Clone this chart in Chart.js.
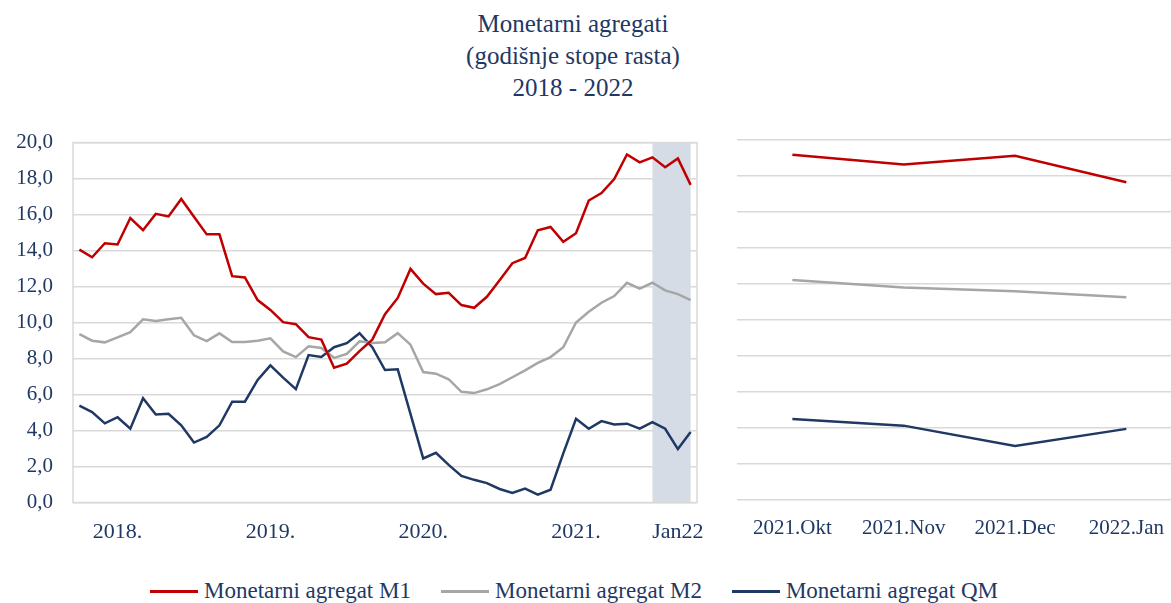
<!DOCTYPE html>
<html>
<head>
<meta charset="utf-8">
<script src="https://cdn.jsdelivr.net/npm/chart.js@4"></script>
<style>
    body { margin: 0; width: 1171px; height: 603px; overflow: hidden; background: #fff; position: relative; font-family: 'Liberation Serif', serif; color: #1F3864; }
    #title { position: absolute; top: 8px; left: 0; width: 1146px; text-align: center; font-size: 25px; line-height: 32px; }
    #left { position: absolute; left: 0; top: 110px; width: 706px; height: 450px; }
    #right { position: absolute; left: 700px; top: 110px; width: 490px; height: 450px; }
    #legend { position: absolute; left: 0; top: 578px; width: 1148px; display: flex; justify-content: center; font-size: 23px; line-height: 26px; white-space: nowrap; }
    #legend .item { display: flex; align-items: center; margin: 0 15px; }
    #legend .line { display: inline-block; width: 48px; height: 3px; margin-right: 6px; }
</style>
</head>
<body>
<div id="title">Monetarni agregati<br>(godišnje stope rasta)<br>2018 - 2022</div>
<div id="left"><canvas id="chart-left"></canvas></div>
<div id="right"><canvas id="chart-right"></canvas></div>
<div id="legend"></div>

<script>
// mjeseci 2018-01 .. 2022-01
const months = [
    '2018-01', '2018-02', '2018-03', '2018-04', '2018-05', '2018-06', '2018-07', '2018-08', '2018-09', '2018-10', '2018-11', '2018-12',
    '2019-01', '2019-02', '2019-03', '2019-04', '2019-05', '2019-06', '2019-07', '2019-08', '2019-09', '2019-10', '2019-11', '2019-12',
    '2020-01', '2020-02', '2020-03', '2020-04', '2020-05', '2020-06', '2020-07', '2020-08', '2020-09', '2020-10', '2020-11', '2020-12',
    '2021-01', '2021-02', '2021-03', '2021-04', '2021-05', '2021-06', '2021-07', '2021-08', '2021-09', '2021-10', '2021-11', '2021-12',
    '2022-01'
];

const m1 = [
    14.05, 13.63, 14.41, 14.34, 15.81, 15.13, 16.04, 15.90, 16.87, 15.88, 14.90, 14.90,
    12.58, 12.51, 11.25, 10.70, 10.02, 9.91, 9.19, 9.05, 7.49, 7.71, 8.41, 9.05,
    10.46, 11.37, 12.98, 12.16, 11.58, 11.65, 10.97, 10.82, 11.43, 12.35, 13.30, 13.59,
    15.13, 15.31, 14.49, 14.96, 16.78, 17.20, 17.97, 19.34, 18.90, 19.18, 18.63, 19.12,
    17.65
];
const m2 = [
    9.36, 8.99, 8.90, 9.18, 9.47, 10.18, 10.09, 10.18, 10.26, 9.29, 8.97, 9.40,
    8.92, 8.92, 8.99, 9.12, 8.40, 8.08, 8.68, 8.59, 8.04, 8.26, 8.96, 8.86,
    8.90, 9.41, 8.77, 7.25, 7.16, 6.85, 6.15, 6.08, 6.29, 6.58, 6.96, 7.34,
    7.76, 8.08, 8.63, 10.00, 10.60, 11.10, 11.47, 12.21, 11.88, 12.21, 11.79, 11.58,
    11.25
];
const qm = [
    5.38, 5.02, 4.40, 4.74, 4.10, 5.79, 4.89, 4.93, 4.29, 3.33, 3.64, 4.29,
    5.60, 5.60, 6.81, 7.62, 6.94, 6.30, 8.19, 8.09, 8.63, 8.85, 9.41, 8.63,
    7.36, 7.40, 4.93, 2.45, 2.76, 2.09, 1.48, 1.26, 1.08, 0.75, 0.53, 0.77,
    0.44, 0.71, 2.73, 4.65, 4.10, 4.52, 4.34, 4.38, 4.10, 4.47, 4.10, 2.97,
    3.92
];

// oznake na x osi lijevog grafikona
const yearTickMonths = ['2018-04', '2019-04', '2020-04', '2021-04', '2021-12'];
const yearTickText = ['2018.', '2019.', '2020.', '2021.', 'Jan22'];

// zasjenjeni period i desni grafikon
const shadeFrom = '2021-10';
const shadeTo = '2022-01';
const zoomLabels = ['2021.Okt', '2021.Nov', '2021.Dec', '2022.Jan'];

const seriesNames = ['Monetarni agregat M1', 'Monetarni agregat M2', 'Monetarni agregat QM'];
const seriesColors = ['#C00000', '#A6A6A6', '#1F3864'];

const textColor = '#1F3864';
const gridColor = '#D9D9D9';
const tickFont = { family: 'Liberation Serif', size: 21 };

const makeDatasets = (arrays) => arrays.map((d, i) => ({
    label: seriesNames[i],
    data: d,
    borderColor: seriesColors[i],
    backgroundColor: seriesColors[i],
    borderWidth: 2.5,
    pointRadius: 0,
    tension: 0
}));

// siva pozadina za zadnja 4 mjeseca + okvir oko grafikona
const shadePlugin = {
    id: 'shade',
    beforeDatasetsDraw(chart) {
        const { ctx, chartArea, scales } = chart;
        const x1 = scales.x.getPixelForValue(months.indexOf(shadeFrom));
        const x2 = scales.x.getPixelForValue(months.indexOf(shadeTo));
        ctx.save();
        ctx.fillStyle = '#D6DCE5';
        ctx.fillRect(x1, chartArea.top, x2 - x1, chartArea.bottom - chartArea.top);
        ctx.restore();
    },
    afterDraw(chart) {
        const { ctx, chartArea } = chart;
        ctx.save();
        ctx.strokeStyle = gridColor;
        ctx.lineWidth = 1.5;
        ctx.strokeRect(chartArea.left, chartArea.top, chartArea.right - chartArea.left, chartArea.bottom - chartArea.top);
        ctx.restore();
    }
};

new Chart(document.getElementById('chart-left'), {
    type: 'line',
    data: {
        labels: months,
        datasets: makeDatasets([m1, m2, qm])
    },
    options: {
        responsive: true,
        maintainAspectRatio: false,
        animation: false,
        layout: { padding: { left: 0, right: 9, top: 16, bottom: 0 } },
        plugins: { legend: { display: false }, tooltip: { enabled: false } },
        scales: {
            x: {
                offset: true,
                grid: { display: false },
                border: { display: false },
                afterFit: (scale) => { scale.height = 57.5; },
                ticks: {
                    autoSkip: false,
                    maxRotation: 0,
                    padding: 9,
                    color: textColor,
                    font: { family: 'Liberation Serif', size: 22 },
                    callback: (value, index) => {
                        const k = yearTickMonths.indexOf(months[index]);
                        return k >= 0 ? yearTickText[k] : '';
                    }
                }
            },
            y: {
                min: 0,
                max: 20,
                afterFit: (scale) => { scale.width = 73; },
                grid: { color: gridColor, lineWidth: 1.5, drawTicks: false },
                border: { display: false },
                ticks: {
                    stepSize: 2,
                    padding: 20,
                    color: textColor,
                    font: tickFont,
                    callback: (v) => v.toFixed(1).replace('.', ',')
                }
            }
        }
    },
    plugins: [shadePlugin]
});

new Chart(document.getElementById('chart-right'), {
    type: 'line',
    data: {
        labels: zoomLabels,
        datasets: makeDatasets([m1, m2, qm].map(d => d.slice(months.indexOf(shadeFrom))))
    },
    options: {
        responsive: true,
        maintainAspectRatio: false,
        animation: false,
        layout: { padding: { left: 0, right: 8, top: 30, bottom: 0 } },
        plugins: { legend: { display: false }, tooltip: { enabled: false } },
        scales: {
            x: {
                offset: true,
                grid: { display: false },
                border: { display: false },
                afterFit: (scale) => { scale.height = 60.7; },
                ticks: {
                    maxRotation: 0,
                    padding: 9,
                    color: textColor,
                    font: { family: 'Liberation Serif', size: 21 }
                }
            },
            y: {
                min: 0,
                max: 20,
                afterFit: (scale) => { scale.width = 36.7; },
                grid: { color: gridColor, lineWidth: 1.5, drawTicks: false },
                border: { display: false },
                ticks: { stepSize: 2, display: false }
            }
        }
    }
});

// legenda ispod oba grafikona
const legend = document.getElementById('legend');
seriesNames.forEach((name, i) => {
    const item = document.createElement('span');
    item.className = 'item';
    item.innerHTML = '<span class="line" style="background:' + seriesColors[i] + '"></span>' + name;
    legend.appendChild(item);
});
</script>
</body>
</html>
